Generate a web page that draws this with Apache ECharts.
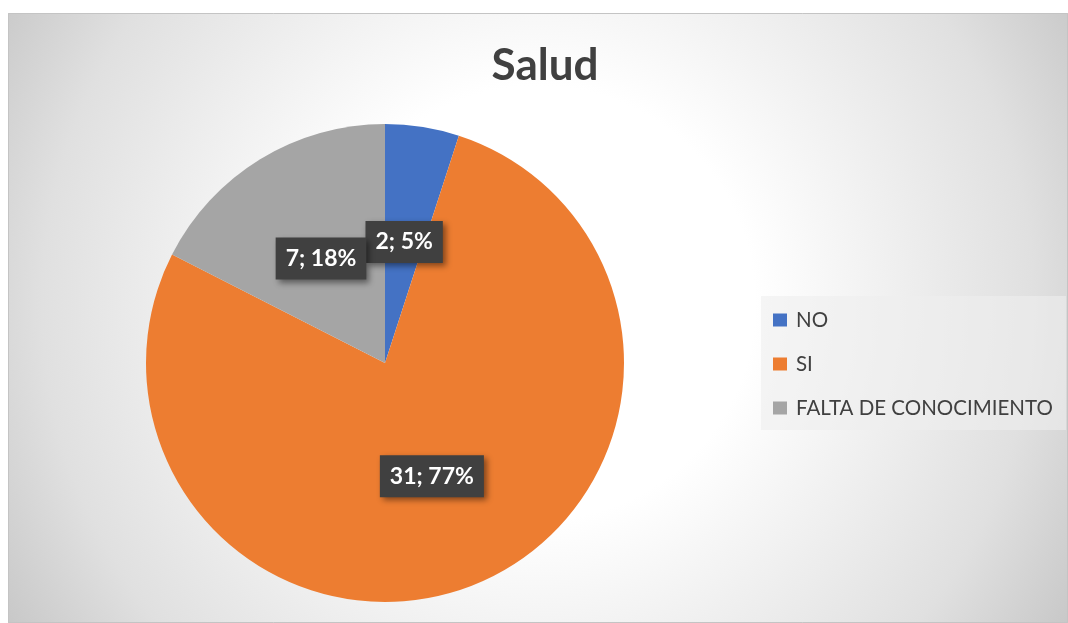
<!DOCTYPE html>
<html>
<head>
<meta charset="utf-8">
<script src="https://cdn.jsdelivr.net/npm/echarts@6/dist/echarts.min.js"></script>
<style>
  html, body { margin: 0; padding: 0; background: #fff; }
  #chart { position: absolute; left: 8px; top: 13px; width: 1060px; height: 610px; }
</style>
</head>
<body>
<div id="chart"></div>
<script>
// datos del grafico
var categorias = ['NO', 'SI', 'FALTA DE CONOCIMIENTO'];
var valores = [2, 31, 7];
var porcentajes = ['5%', '77%', '18%'];
var colores = ['#4472C4', '#ED7D31', '#A5A5A5'];

var myChart = echarts.init(document.getElementById('chart'));

var datos = categorias.map(function (nombre, i) {
  return { name: nombre, value: valores[i], pct: porcentajes[i] };
});

var option = {
  backgroundColor: new echarts.graphic.RadialGradient(530, 290, 620, [
    { offset: 0, color: '#ffffff' },
    { offset: 0.35, color: '#ffffff' },
    { offset: 0.8, color: '#e0e0e0' },
    { offset: 1, color: '#c8c8c8' }
  ], true),
  color: colores,
  title: {
    text: 'Salud',
    left: 532,
    top: 26,
    textAlign: 'center',
    textStyle: {
      fontFamily: 'Lato',
      fontSize: 44,
      fontWeight: 'bold',
      color: '#404040'
    }
  },
  graphic: [
    {
      type: 'rect',
      shape: { x: 0.5, y: 0.5, width: 1059, height: 609 },
      style: { fill: 'none', stroke: '#c4c4c4', lineWidth: 1 },
      z: 100
    },
    {
      type: 'rect',
      shape: { x: 753, y: 283, width: 305, height: 134 },
      style: { fill: 'rgba(238,238,238,0.6)' },
      z: -1
    }
  ],
  legend: {
    orient: 'vertical',
    left: 765,
    top: 295,
    padding: 0,
    itemGap: 20,
    itemWidth: 14,
    itemHeight: 13,
    icon: 'rect',
    data: categorias,
    textStyle: {
      fontFamily: 'Lato',
      fontSize: 20.5,
      lineHeight: 24,
      color: '#404040',
      padding: [0, 0, 0, 4]
    }
  },
  series: [
    {
      name: 'Salud',
      type: 'pie',
      center: [377, 350],
      radius: 239,
      startAngle: 90,
      clockwise: true,
      avoidLabelOverlap: false,
      labelLayout: { hideOverlap: false },
      itemStyle: { borderWidth: 0 },
      label: {
        show: true,
        position: 'inside',
        formatter: function (p) {
          return p.value + '; ' + p.data.pct;
        },
        fontFamily: 'Lato',
        fontSize: 23,
        fontWeight: 'bold',
        lineHeight: 24,
        color: '#ffffff',
        backgroundColor: '#404040',
        padding: [9, 10],
        shadowColor: 'rgba(0,0,0,0.45)',
        shadowBlur: 6,
        shadowOffsetX: 3,
        shadowOffsetY: 3
      },
      labelLine: { show: false },
      emphasis: { disabled: true },
      data: datos
    }
  ]
};

myChart.setOption(option);
</script>
</body>
</html>
